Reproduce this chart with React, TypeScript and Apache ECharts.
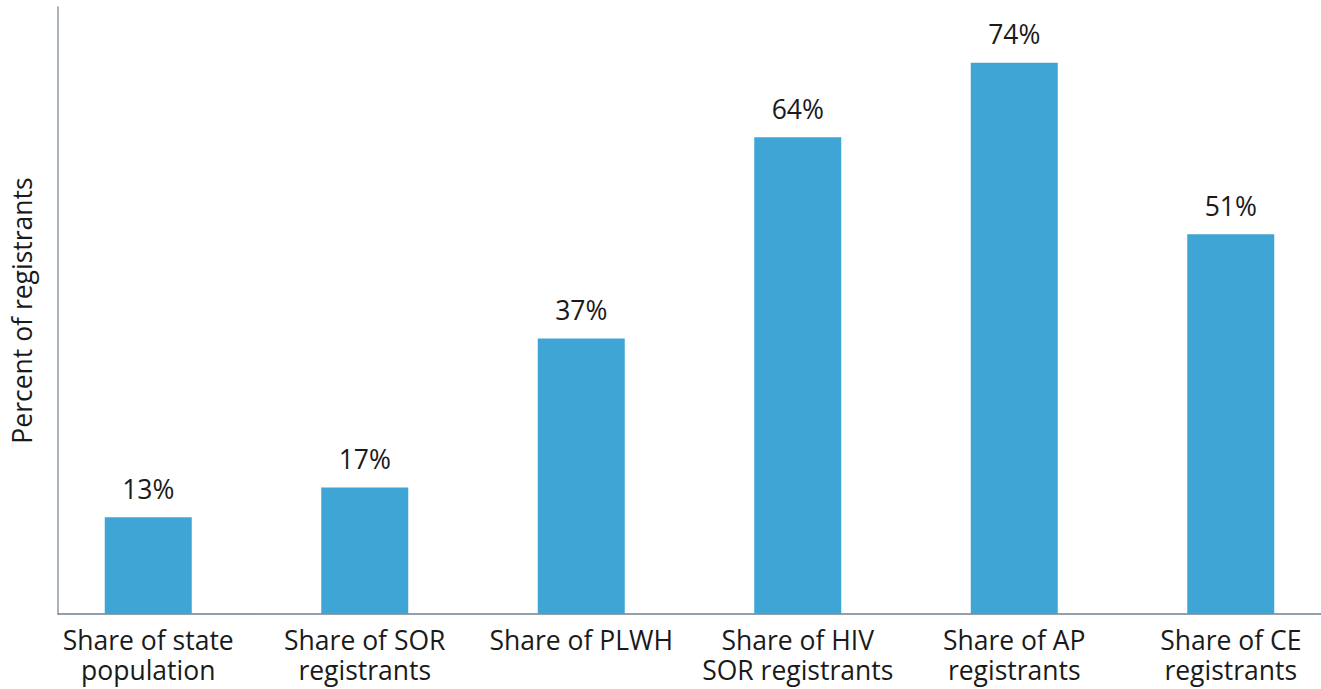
import React, { useEffect, useRef } from "react";
import * as echarts from "echarts";

const categories = [
  "Share of state\npopulation",
  "Share of SOR\nregistrants",
  "Share of PLWH",
  "Share of HIV\nSOR registrants",
  "Share of AP\nregistrants",
  "Share of CE\nregistrants",
];
const values = [13, 17, 37, 64, 74, 51];
const yTitle = "Percent of registrants";

export default function App() {
  const ref = useRef<HTMLDivElement>(null);
  useEffect(() => {
    if (!ref.current) return;
    const chart = echarts.init(ref.current, undefined, { renderer: "svg" });
    const font = "'Open Sans', 'Noto Sans', sans-serif";
    chart.setOption({
      animation: false,
      textStyle: { fontFamily: font },
      grid: [
        { left: 40, right: -18, top: 7, bottom: 75, containLabel: false, outerBoundsMode: "none" },
        { left: 58, right: 0, top: 7, bottom: 75, containLabel: false, outerBoundsMode: "none" },
      ],
      xAxis: [
        {
          type: "category",
          gridIndex: 0,
          data: categories,
          axisLine: { show: false },
          axisTick: { show: false },
          axisLabel: {
            interval: 0,
            fontSize: 26.5,
            lineHeight: 30,
            color: "#1a1a1a",
            margin: 11,
            fontFamily: font,
          },
        },
        {
          type: "value",
          gridIndex: 1,
          min: 0,
          max: 1,
          axisLine: { show: true, lineStyle: { color: "#6f8090", width: 1.5 } },
          axisTick: { show: false },
          axisLabel: { show: false },
          splitLine: { show: false },
        },
      ],
      yAxis: [
        {
          type: "value",
          gridIndex: 0,
          min: 0,
          max: 81.5,
          axisLine: { show: false },
          axisTick: { show: false },
          axisLabel: { show: false },
          splitLine: { show: false },
        },
        {
          type: "value",
          gridIndex: 1,
          min: 0,
          max: 1,
          name: yTitle,
          nameLocation: "middle",
          nameGap: 23,
          nameTextStyle: { fontSize: 26.5, color: "#1a1a1a", fontFamily: font },
          axisLine: { show: true, lineStyle: { color: "#8e9aa3", width: 1.5 } },
          axisTick: { show: false },
          axisLabel: { show: false },
          splitLine: { show: false },
        },
      ],
      series: [
        {
          type: "bar",
          xAxisIndex: 0,
          yAxisIndex: 0,
          data: values,
          barWidth: 87,
          itemStyle: { color: "#3ea5d5" },
          label: {
            show: true,
            position: "top",
            distance: 15,
            formatter: "{c}%",
            fontSize: 26.5,
            color: "#1a1a1a",
            fontFamily: font,
          },
        },
      ],
    });
    return () => chart.dispose();
  }, []);
  return (
    <div
      ref={ref}
      style={{ position: "absolute", left: 0, top: 0, width: 1321, height: 689 }}
    />
  );
}
